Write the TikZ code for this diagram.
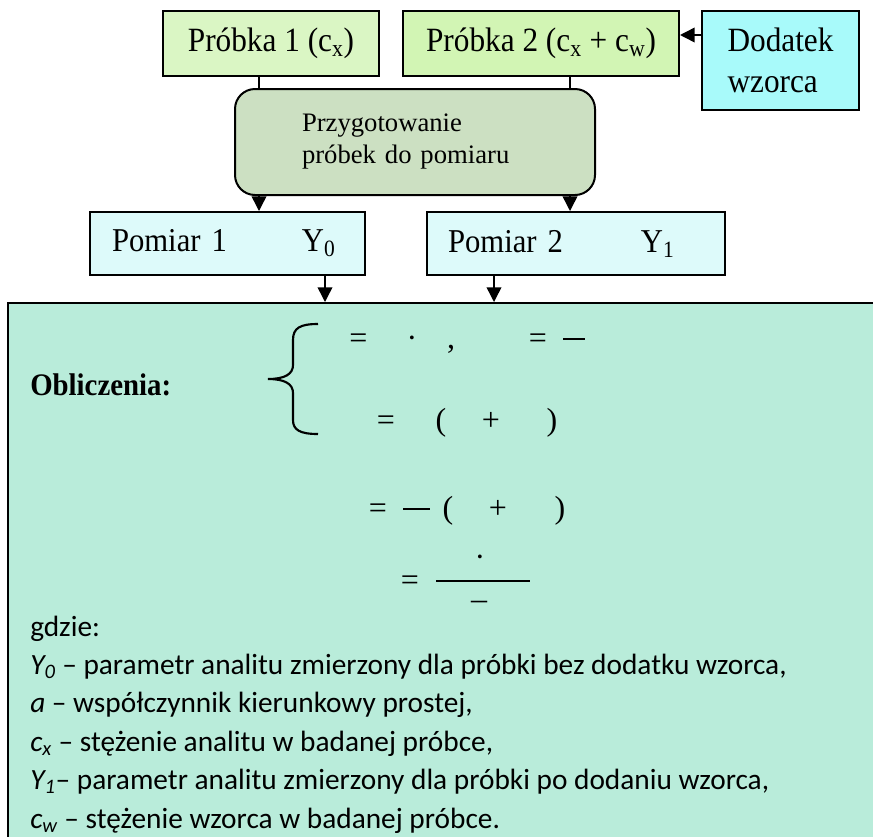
\documentclass[tikz,border=0pt]{standalone}
\usepackage{fontspec}
\setmainfont{Liberation Serif}[FakeStretch=0.92]
\newfontfamily\plainserif{Liberation Serif}
\newfontfamily\legendfont{Carlito}
\usetikzlibrary{arrows.meta,positioning}
\definecolor{probkaA}{HTML}{DAF6C4}
\definecolor{probkaB}{HTML}{D2F5B4}
\definecolor{dodatek}{HTML}{A8FAFA}
\definecolor{przyg}{HTML}{CCE0C2}
\definecolor{pomiar}{HTML}{DDFAFA}
\definecolor{oblicz}{HTML}{B9ECDA}

\begin{document}
\begin{tikzpicture}[x=0.75pt,y=-0.75pt,
  box/.style={draw,line width=1.5pt,inner sep=0pt,font=\fontsize{25.5}{30}\selectfont},
  arr/.style={line width=1.1pt,-{Triangle[length=11pt,width=11pt]}},
  sym/.style={anchor=base,inner sep=0pt,font=\plainserif\fontsize{24}{28}\selectfont}]
\useasboundingbox (0,0) rectangle (873,836);
% boxes
\node[box,fill=oblicz,minimum width=661.5pt,minimum height=410.25pt] (wynik) at (449,576.5) {};
\node[box,fill=probkaA,minimum width=162pt,minimum height=48.75pt] (pr1) at (271,43.5) {Próbka 1 (c\textsubscript{x})};
\node[box,fill=probkaB,minimum width=207pt,minimum height=48.75pt] (pr2) at (541,43.5) {Próbka 2 (c\textsubscript{x} + c\textsubscript{w})};
\node[box,fill=dodatek,minimum width=117.75pt,minimum height=74.25pt,align=left,font=\fontsize{25.5}{30.75}\selectfont] (dod) at (780.5,60.5) {Dodatek\\wzorca};
\node[box,fill=przyg,rounded corners=15pt,minimum width=270pt,minimum height=79.5pt,text width=169.5pt,align=left,font=\plainserif\fontsize{20}{24}\selectfont] (przyg) at (415,142) {Przygotowanie\\próbek do pomiaru};
\node[box,fill=pomiar,minimum width=206.25pt,minimum height=47.25pt,text width=173.25pt,align=left,font=\fontsize{25}{30}\selectfont] (pom1) at (227.5,243.5) {\makebox[142.5pt][l]{Pomiar 1}Y\textsubscript{0}};
\node[box,fill=pomiar,minimum width=223.5pt,minimum height=47.25pt,text width=192pt,align=left,font=\fontsize{25}{30}\selectfont] (pom2) at (576,243.5) {\makebox[144.75pt][l]{Pomiar 2}Y\textsubscript{1}};
% connectors
\draw[line width=0.8pt] (pr1.south -| 259,0) -- (przyg.north -| 259,0);
\draw[line width=0.8pt] (pr2.south -| 570,0) -- (przyg.north -| 570,0);
\draw[arr] (dod.west |- 0,35) -- (pr2.east |- 0,35);
\draw[arr] (przyg.south -| 259,0) -- (pom1.north -| 259,0);
\draw[arr] (przyg.south -| 570,0) -- (pom2.north -| 570,0);
\draw[arr] (pom1.south -| 325,0) -- (wynik.north -| 325,0);
\draw[arr] (pom2.south -| 494,0) -- (wynik.north -| 494,0);
% calculations
\node[anchor=base west,inner sep=0pt,font=\bfseries\fontsize{23.5}{28}\selectfont] (obl) at (30,395) {Obliczenia:};
\draw[line width=1.6pt] (318,324) .. controls (300,324) and (293,328) .. (293,340) -- (293,365)
  .. controls (293,374) and (285,379) .. (268,379) .. controls (285,379) and (293,384) .. (293,393)
  -- (293,420) .. controls (293,430) and (300,434) .. (318,434);
\foreach \px/\py/\g [count=\i] in {358.5/348/=, 412/348/{·}, 451/348/{,}, 538/348/=,
  386/430/=, 441/430/(, 491/430/+, 552/430/),
  378/518/=, 448/518/(, 498/518/+, 560/518/),
  410/590/=, 480/567/{·}, 479/609/{–}}
  \node[sym] (s\i) at (\px,\py) {\g};
\draw[line width=1.3pt] (563,339) -- (585,339);
\draw[line width=1.3pt] (403,509) -- (430,509);
\draw[line width=1.3pt] (436,581) -- (530,581);
% legend
\foreach \txt [count=\i from 0] in {{gdzie:},
  {\textit{Y\textsubscript{0}} – parametr analitu zmierzony dla próbki bez dodatku wzorca,},
  {\textit{a} – współczynnik kierunkowy prostej,},
  {\textit{c\textsubscript{x}} – stężenie analitu w badanej próbce,},
  {\textit{Y\textsubscript{1}}– parametr analitu zmierzony dla próbki po dodaniu wzorca,},
  {\textit{c\textsubscript{w}} – stężenie wzorca w badanej próbce.}}
  \node[anchor=base west,inner sep=0pt,font=\legendfont\fontsize{22}{26}\selectfont] (leg\i) at (30,{636+38.4*\i}) {\txt};
\end{tikzpicture}
\end{document}
